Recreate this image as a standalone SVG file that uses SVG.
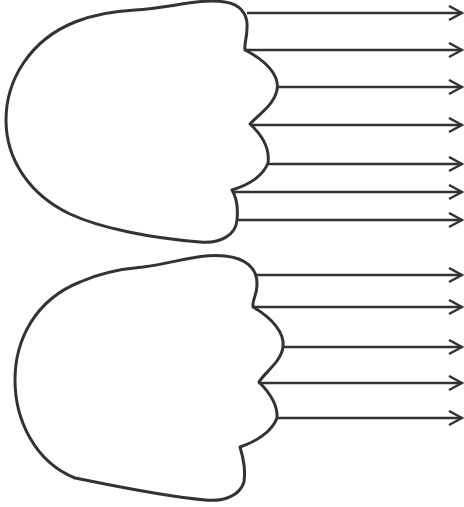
<svg xmlns="http://www.w3.org/2000/svg" width="464" height="507" viewBox="0 0 464 507">
<style>
.shape{fill:#fff;stroke:#333;stroke-width:3;stroke-linejoin:round}
.arrow{stroke:#333;stroke-width:2.5;fill:none}
</style>
<defs>
<marker id="ah" markerUnits="userSpaceOnUse" markerWidth="16" markerHeight="18" refX="14" refY="8" orient="auto">
<path d="M1,1 L14,8 L1,15" fill="none" stroke="#333" stroke-width="2.5"/>
</marker>
</defs>
<rect width="464" height="507" fill="#fff"/>
<g id="cloud-top">
<path class="shape" d="M135,10 C170,8 200,-2 225,2 C240,4 248,14 247,28 C247,38 244,44 245,50 C265,60 280,75 277,90 C274,105 258,115 250,124 C262,135 270,148 268,163 C262,178 245,186 232,190 C238,200 238,210 237,220 C236,235 220,244 200,242 C150,238 100,228 70,214 C30,195 6,160 6,120 C6,80 30,40 75,22 C95,14 115,11 135,10 Z"/>
</g>
<g id="cloud-bottom">
<path class="shape" d="M143,267 C175,263 200,253 225,256 C245,258 258,268 257,285 C257,295 252,300 253,307 C272,318 285,333 283,347 C281,362 265,372 259,382 C270,393 278,405 277,418 C272,432 255,442 240,447 C244,460 246,470 244,482 C240,495 225,502 205,500 C160,496 110,485 75,478 C35,462 15,420 15,380 C15,340 35,300 80,282 C100,273 120,269 143,267 Z"/>
</g>
<g id="connectors" class="arrow" marker-end="url(#ah)">
<line x1="247" y1="13" x2="462" y2="13" marker-end="url(#ah)"/>
<line x1="245" y1="50" x2="462" y2="50" marker-end="url(#ah)"/>
<line x1="277" y1="87" x2="462" y2="87" marker-end="url(#ah)"/>
<line x1="250" y1="125" x2="462" y2="125" marker-end="url(#ah)"/>
<line x1="268" y1="164" x2="462" y2="164" marker-end="url(#ah)"/>
<line x1="232" y1="192" x2="462" y2="192" marker-end="url(#ah)"/>
<line x1="236" y1="220" x2="462" y2="220" marker-end="url(#ah)"/>
<line x1="257" y1="275" x2="462" y2="275" marker-end="url(#ah)"/>
<line x1="253" y1="307" x2="462" y2="307" marker-end="url(#ah)"/>
<line x1="283" y1="347" x2="462" y2="347" marker-end="url(#ah)"/>
<line x1="258" y1="383" x2="462" y2="383" marker-end="url(#ah)"/>
<line x1="277" y1="418" x2="462" y2="418" marker-end="url(#ah)"/>
</g>
</svg>
